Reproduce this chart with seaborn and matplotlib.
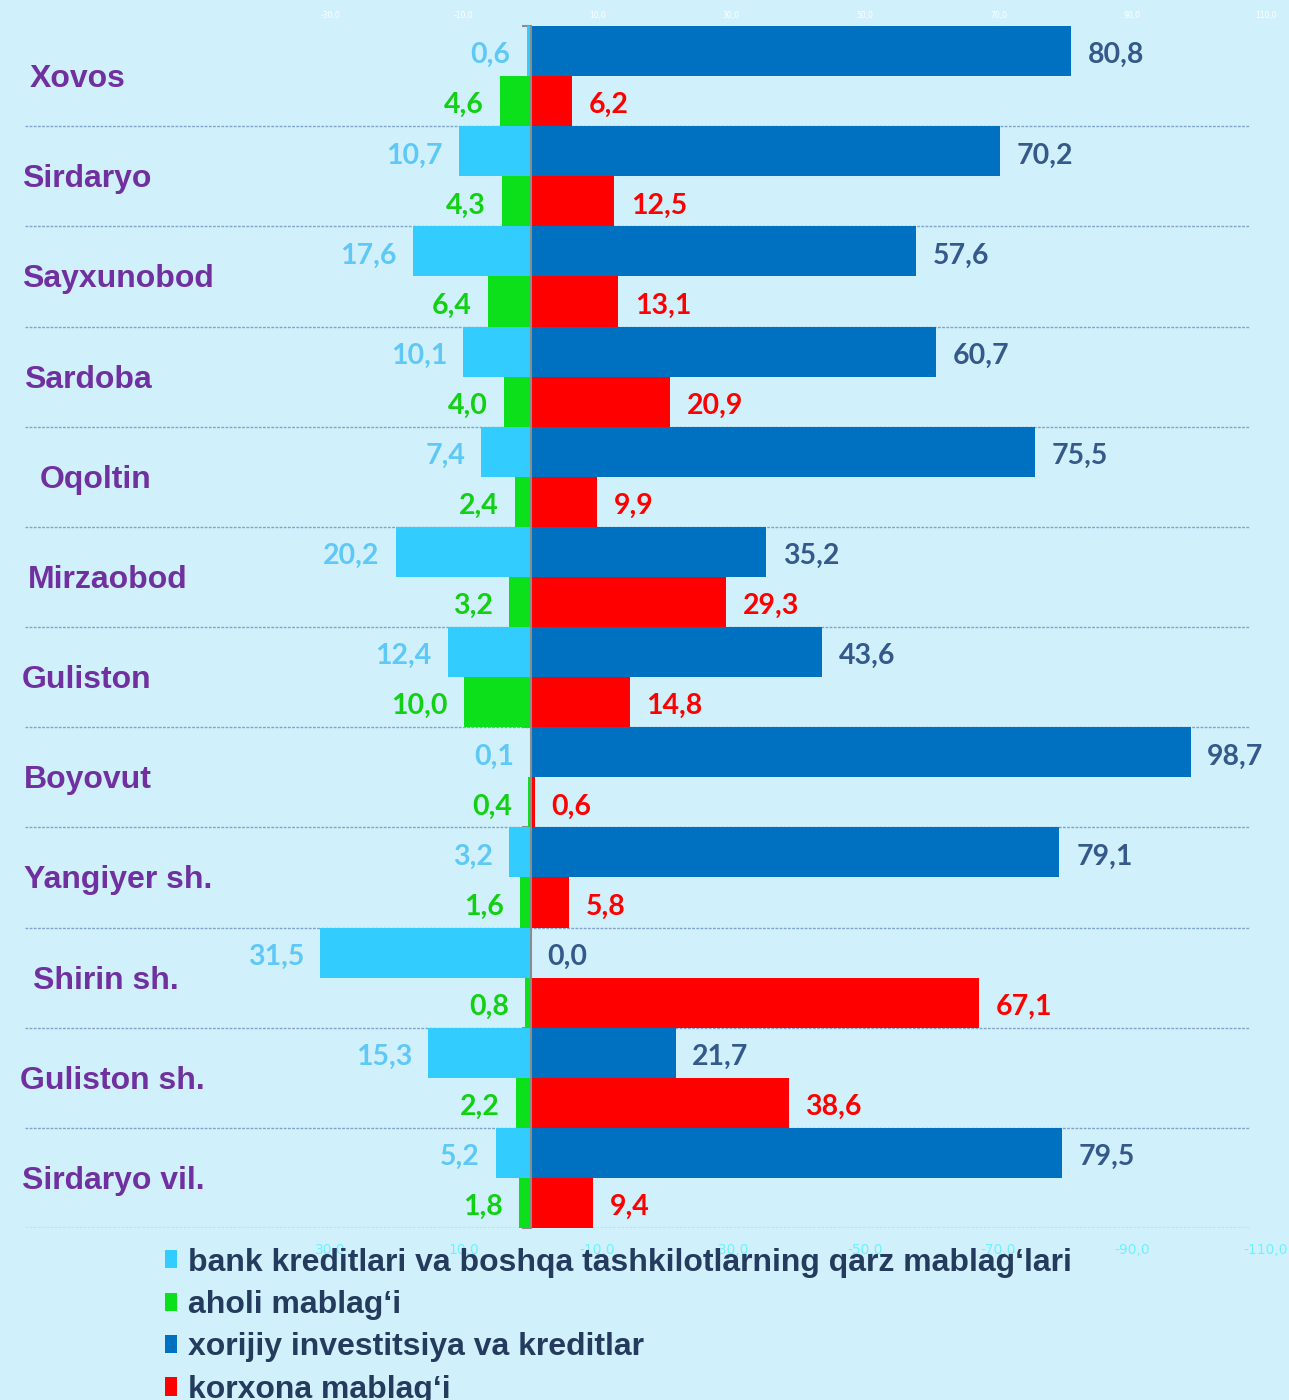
import numpy as np
import pandas as pd
import matplotlib
matplotlib.use("Agg")
import matplotlib.pyplot as plt
import seaborn as sns
from matplotlib.patches import Patch
from matplotlib import transforms

# ---------------- data ----------------
districts = ["Xovos", "Sirdaryo", "Sayxunobod", "Sardoba", "Oqoltin", "Mirzaobod",
             "Guliston", "Boyovut", "Yangiyer sh.", "Shirin sh.", "Guliston sh.",
             "Sirdaryo vil."]
bank = [0.6, 10.7, 17.6, 10.1, 7.4, 20.2, 12.4, 0.1, 3.2, 31.5, 15.3, 5.2]
aholi = [4.6, 4.3, 6.4, 4.0, 2.4, 3.2, 10.0, 0.4, 1.6, 0.8, 2.2, 1.8]
xorijiy = [80.8, 70.2, 57.6, 60.7, 75.5, 35.2, 43.6, 98.7, 79.1, 0.0, 21.7, 79.5]
korxona = [6.2, 12.5, 13.1, 20.9, 9.9, 29.3, 14.8, 0.6, 5.8, 67.1, 38.6, 9.4]
series_names = ["bank kreditlari va boshqa tashkilotlarning qarz mablag‘lari",
                "aholi mablag‘i",
                "xorijiy investitsiya va kreditlar",
                "korxona mablag‘i"]
top_ticks = [-30, -10, 10, 30, 50, 70, 90, 110]
top_tick_labels = ["-30,0", "-10,0", "10,0", "30,0", "50,0", "70,0", "90,0", "110,0"]
bottom_ticks = [30, 10, -10, -30, -50, -70, -90, -110]
bottom_tick_labels = ["30,0", "10,0", "-10,0", "-30,0", "-50,0", "-70,0", "-90,0", "-110,0"]

# ---------------- style ----------------
BG = "#D0F1FC"
C_BANK = "#33CCFF"
C_AHOLI = "#0BE01B"
C_XOR = "#0070C0"
C_KOR = "#FF0000"
T_BANK = "#5EC8F7"
T_AHOLI = "#12D012"
T_XOR = "#34598A"
T_KOR = "#FF0000"
PURPLE = "#7030A0"
NAVY = "#243B5E"

W, H = 1289, 1400
fig = plt.figure(figsize=(W / 100, H / 100), dpi=100, facecolor=BG)
ax_top_px, ax_bot_px = 26, 1228
ax = fig.add_axes([0, 1 - ax_bot_px / H, 1, (ax_bot_px - ax_top_px) / H])
ax.set_facecolor(BG)

left_df = pd.DataFrame({
    "district": districts * 2,
    "row": ["top"] * len(districts) + ["bot"] * len(districts),
    "value": [-v for v in bank] + [-v for v in aholi],
})
right_df = pd.DataFrame({
    "district": districts * 2,
    "row": ["top"] * len(districts) + ["bot"] * len(districts),
    "value": xorijiy + korxona,
})

common = dict(y="district", x="value", hue="row", hue_order=["top", "bot"],
              order=districts, width=1.0, dodge=True, orient="h", legend=False,
              errorbar=None, saturation=1, ax=ax, linewidth=0, zorder=2)
sns.barplot(data=left_df, palette={"top": C_BANK, "bot": C_AHOLI}, **common)
sns.barplot(data=right_df, palette={"top": C_XOR, "bot": C_KOR}, **common)

# x scale: zero at 530.6 px, 6.686 px per unit
ppu = 6.686
x0 = 530.6
ax.set_xlim(-x0 / ppu, (W - x0) / ppu)
ax.set_ylim(len(districts) - 0.5, -0.5)

# separators
bounds = np.arange(0.5, len(districts), 1.0)
ax.hlines(bounds, 25 / W, 1250 / W, transform=ax.get_yaxis_transform(),
          colors="#80A4CA", linestyles=(0, (2, 1)), linewidth=1.0, zorder=0.5)

# value labels
fmt = lambda v: f"{v:.1f}".replace(".", ",")
lab_font = dict(family="Lato", fontweight="bold", fontsize=20.5)
dy = -3
for i in range(len(districts)):
    ax.annotate(fmt(bank[i]), xy=(-bank[i], i - 0.25), xytext=(-11.5, dy),
                textcoords="offset points", ha="right", va="center",
                color=T_BANK, **lab_font)
    ax.annotate(fmt(aholi[i]), xy=(-aholi[i], i + 0.25), xytext=(-11.5, dy),
                textcoords="offset points", ha="right", va="center",
                color=T_AHOLI, **lab_font)
    ax.annotate(fmt(xorijiy[i]), xy=(xorijiy[i], i - 0.25), xytext=(12, dy),
                textcoords="offset points", ha="left", va="center",
                color=T_XOR, **lab_font)
    ax.annotate(fmt(korxona[i]), xy=(korxona[i], i + 0.25), xytext=(12, dy),
                textcoords="offset points", ha="left", va="center",
                color=T_KOR, **lab_font)

# category labels
name_x_px = [30, 22, 22, 24, 40, 28, 22, 24, 24, 33, 20, 22]
tr = transforms.blended_transform_factory(fig.transFigure, ax.transData)
for i, name in enumerate(districts):
    ax.annotate(name, xy=(name_x_px[i] / W, i), xycoords=tr, xytext=(0, -2.2),
                textcoords="offset points", ha="left", va="center",
                family="Liberation Sans", fontweight="bold", fontsize=23, color=PURPLE)

# spines / ticks
for s in ["top", "right", "bottom"]:
    ax.spines[s].set_visible(False)
ax.spines["left"].set_position(("data", 0))
ax.spines["left"].set_color("#8C8C8C")
ax.spines["left"].set_linewidth(1.5)
ax.spines["left"].set_zorder(3)
ax.set_yticks(np.arange(-0.5, len(districts), 1.0))
ax.set_yticklabels([])
ax.tick_params(axis="y", direction="out", length=6.5, width=1.5, color="#8C8C8C")
ax.set_ylabel("")
ax.set_xlabel("")
ax.xaxis.tick_top()
ax.set_xticks(top_ticks, labels=top_tick_labels)
ax.tick_params(axis="x", length=0, pad=4, labelsize=5.5, labelcolor="white")

sec = ax.secondary_xaxis("bottom", functions=(np.negative, np.negative))
sec.set_xticks(bottom_ticks, labels=bottom_tick_labels)
sec.tick_params(length=0, pad=11, labelsize=10, labelcolor="#6CF2FF")
sec.spines["bottom"].set_visible(False)

# legend
handles = [Patch(facecolor=c, edgecolor="none") for c in [C_BANK, C_AHOLI, C_XOR, C_KOR]]
leg = fig.legend(handles, series_names, loc="upper left",
                 bbox_to_anchor=(165 / W, 1 - 1247.5 / H), frameon=False,
                 borderpad=0, borderaxespad=0, handlelength=0.38, handleheight=0.5,
                 handletextpad=0.35, labelspacing=0.39,
                 prop=dict(family="Liberation Sans", weight="bold", size=23))
for t in leg.get_texts():
    t.set_color(NAVY)

fig.savefig("out.png", dpi=100, facecolor=BG)
